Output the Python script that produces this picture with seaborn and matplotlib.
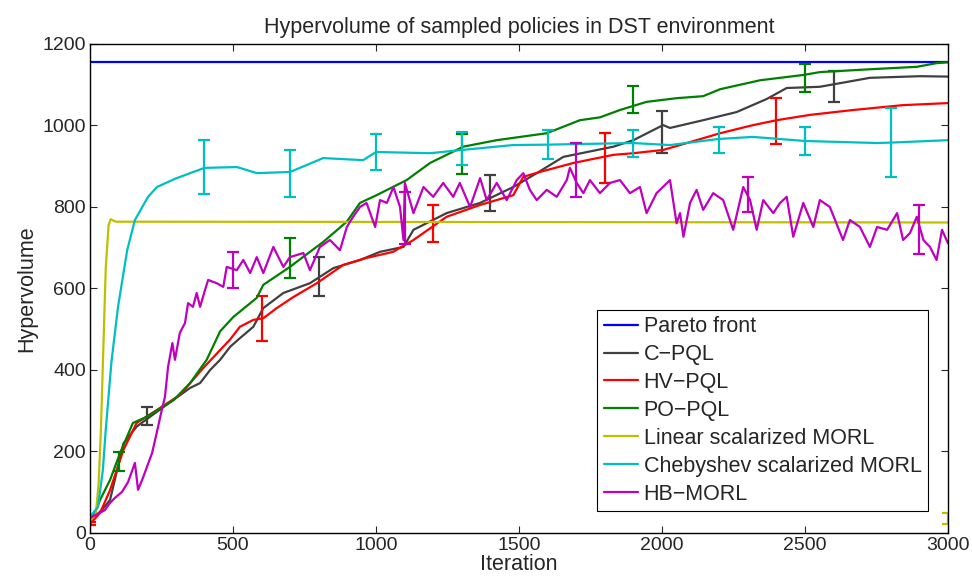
import matplotlib
matplotlib.use("Agg")
import matplotlib.pyplot as plt
import seaborn as sns

sns.set_style("ticks")
plt.rcParams["font.family"] = ["Liberation Sans", "DejaVu Sans"]
plt.rcParams["xtick.direction"] = "in"
plt.rcParams["ytick.direction"] = "in"

# Pareto front
pareto_x = [0, 3000]
pareto_y = [1155, 1155]

# C-PQL
cpql_x = [0, 41, 70, 117, 163, 233, 350, 385, 420, 455, 490, 524, 571, 606, 676, 769,
          851, 944, 1014, 1096, 1131, 1247, 1364, 1480, 1562, 1655, 1830, 1900, 2004,
          2028, 2144, 2261, 2366, 2436, 2552, 2727, 2902, 3000]
cpql_y = [30, 56, 81, 220, 261, 297, 356, 368, 400, 425, 457, 478, 506, 552, 589, 613,
          650, 670, 690, 702, 744, 785, 810, 849, 883, 923, 948, 964, 1001,
          994, 1013, 1033, 1065, 1092, 1095, 1117, 1121, 1120]
cpql_err_x = [200, 800, 1400, 2000, 2600]
cpql_err_y = [287, 630, 834, 984, 1096]
cpql_err = [22, 48, 45, 51, 38]

# HV-PQL
hv_x = [0, 35, 70, 117, 163, 234, 315, 396, 443, 490, 524, 571, 606, 653, 711, 793,
        886, 967, 1060, 1131, 1247, 1364, 1480, 1515, 1573, 1690, 1830, 1900, 2004,
        2063, 2087, 2203, 2319, 2401, 2517, 2668, 2843, 3000]
hv_y = [22, 49, 105, 204, 270, 302, 339, 405, 440, 475, 506, 523, 527, 552, 579, 613,
        658, 675, 690, 719, 776, 805, 829, 874, 886, 908, 928, 932, 940,
        952, 957, 981, 1001, 1013, 1026, 1038, 1050, 1055]
hv_err_x = [0, 600, 1200, 1800, 2400]
hv_err_y = [24, 527, 759, 921, 1011]
hv_err = [4, 55, 45, 61, 57]

# PO-PQL
po_x = [0, 20, 35, 70, 105, 150, 198, 292, 350, 408, 455, 501, 583, 606, 699, 769,
        815, 898, 944, 1002, 1107, 1189, 1305, 1422, 1597, 1713, 1783, 1853, 1946,
        2051, 2144, 2203, 2343, 2494, 2552, 2727, 2891, 2960, 3000]
po_y = [35, 55, 81, 130, 196, 270, 285, 326, 368, 425, 495, 530, 577, 609, 653, 690,
        714, 764, 810, 829, 866, 908, 948, 964, 981, 1013, 1020, 1038, 1058,
        1067, 1072, 1089, 1111, 1124, 1131, 1138, 1144, 1153, 1155]
po_err_x = [100, 700, 1300, 1900, 2500]
po_err_y = [176, 675, 930, 1063, 1117]
po_err = [23, 49, 49, 33, 34]

# Linear scalarized MORL
lin_x = [0, 20, 30, 38, 55, 65, 72, 90, 3000]
lin_y = [30, 45, 120, 250, 650, 755, 770, 764, 762]
lin_err_x = [3000]
lin_err_y = [35]
lin_err = [13]

# Chebyshev scalarized MORL
cheb_x = [0, 28, 45, 55, 75, 98, 130, 157, 203, 234, 300, 350, 400, 514, 584, 700,
          815, 955, 1000, 1189, 1301, 1479, 1598, 1899, 2028, 2199, 2318, 2500, 2752,
          2800, 3000]
cheb_y = [40, 64, 155, 253, 420, 555, 694, 768, 825, 849, 870, 883, 896, 898, 883, 886,
          920, 915, 935, 932, 940, 952, 953, 957, 952, 967, 972, 962, 957,
          958, 964]
cheb_err_x = [400, 700, 1000, 1300, 1600, 1900, 2200, 2500, 2800]
cheb_err_y = [898, 882, 935, 943, 953, 956, 965, 962, 958]
cheb_err = [66, 57, 44, 40, 36, 33, 32, 34, 85]

# HB-MORL
hb_x = [0, 52, 70, 87, 112, 133, 157, 168, 185, 199, 217, 233, 251, 262, 273, 288,
        297, 314, 332, 343, 360, 373, 385, 402, 413, 443, 466, 478, 513, 536, 560,
        583, 606, 641, 676, 699, 746, 769, 804, 839, 874, 898, 920, 944, 967, 997,
        1014, 1038, 1061, 1084, 1096, 1101, 1131, 1166, 1200, 1235, 1270, 1293, 1329,
        1364, 1387, 1422, 1457, 1492, 1515, 1538, 1562, 1597, 1632, 1667, 1678, 1702,
        1725, 1748, 1783, 1818, 1853, 1888, 1923, 1946, 1981, 2028, 2051, 2063, 2075,
        2098, 2121, 2144, 2179, 2214, 2249, 2284, 2308, 2331, 2354, 2389, 2413, 2436,
        2459, 2494, 2529, 2552, 2587, 2633, 2657, 2692, 2727, 2752, 2787, 2822, 2843,
        2867, 2891, 2914, 2937, 2960, 2979, 3000]
hb_y = [37, 56, 74, 86, 101, 125, 172, 106, 135, 162, 196, 245, 302, 334, 408, 466,
        425, 491, 515, 564, 555, 589, 555, 596, 621, 613, 604, 653, 645, 670, 638,
        677, 638, 702, 653, 677, 687, 645, 702, 719, 694, 751, 776, 800, 810, 751,
        817, 810, 849, 800, 719, 859, 785, 849, 825, 859, 825, 859, 800,
        871, 817, 859, 817, 866, 883, 842, 817, 842, 825, 866, 896, 859,
        834, 866, 834, 859, 866, 834, 849, 785, 834, 866, 760, 785, 727,
        810, 842, 793, 834, 817, 744, 849, 817, 744, 817, 785, 810, 825,
        727, 810, 751, 817, 800, 719, 768, 751, 702, 751, 744, 785, 719,
        736, 776, 719, 702, 670, 744, 711]
hb_err_x = [500, 1100, 1700, 2300, 2900]
hb_err_y = [645, 773, 891, 831, 745]
hb_err = [44, 65, 66, 43, 60]

series = [
    ("Pareto front", pareto_x, pareto_y, None, None, None, (0, 0, 1)),
    ("C\u2212PQL", cpql_x, cpql_y, cpql_err_x, cpql_err_y, cpql_err, (0.25, 0.25, 0.25)),
    ("HV\u2212PQL", hv_x, hv_y, hv_err_x, hv_err_y, hv_err, (1, 0, 0)),
    ("PO\u2212PQL", po_x, po_y, po_err_x, po_err_y, po_err, (0, 0.5, 0)),
    ("Linear scalarized MORL", lin_x, lin_y, lin_err_x, lin_err_y, lin_err, (0.75, 0.75, 0)),
    ("Chebyshev scalarized MORL", cheb_x, cheb_y, cheb_err_x, cheb_err_y, cheb_err, (0, 0.75, 0.75)),
    ("HB\u2212MORL", hb_x, hb_y, hb_err_x, hb_err_y, hb_err, (0.75, 0, 0.75)),
]

fig = plt.figure(figsize=(9.72, 5.82), dpi=100)
ax = fig.add_axes([0.0926, 0.0842, 0.8827, 0.8402])

for name, x, y, ex, ey, ee, col in series:
    sns.lineplot(x=x, y=y, ax=ax, color=col, lw=1.6, label=name,
                 estimator=None, sort=False)
    if ex is not None:
        ax.errorbar(ex, ey, yerr=ee, fmt="none", ecolor=col, elinewidth=1.6,
                    capsize=4.5, capthick=1.6)

ax.set_xlim(0, 3000)
ax.set_ylim(0, 1200)
ax.set_xticks([0, 500, 1000, 1500, 2000, 2500, 3000])
ax.set_yticks([0, 200, 400, 600, 800, 1000, 1200])
ax.tick_params(labelsize=14, length=5, width=0.8, top=True, right=True, pad=3)
for s in ax.spines.values():
    s.set_linewidth(1.0)
    s.set_color("black")
ax.set_title("Hypervolume of sampled policies in DST environment", fontsize=15.5, pad=8)
ax.set_xlabel("Iteration", fontsize=15.5, labelpad=0)
ax.set_ylabel("Hypervolume", fontsize=15.5, labelpad=4)

leg = ax.legend(loc="lower right", bbox_to_anchor=(0.9767, 0.045), fontsize=15.5,
                frameon=True, fancybox=False, handlelength=1.6, handletextpad=0.25,
                borderpad=0.3, labelspacing=0.32, borderaxespad=0)
leg.get_frame().set_edgecolor("black")
leg.get_frame().set_linewidth(0.8)
leg.get_frame().set_alpha(1)

fig.savefig("out.png", dpi=100)
